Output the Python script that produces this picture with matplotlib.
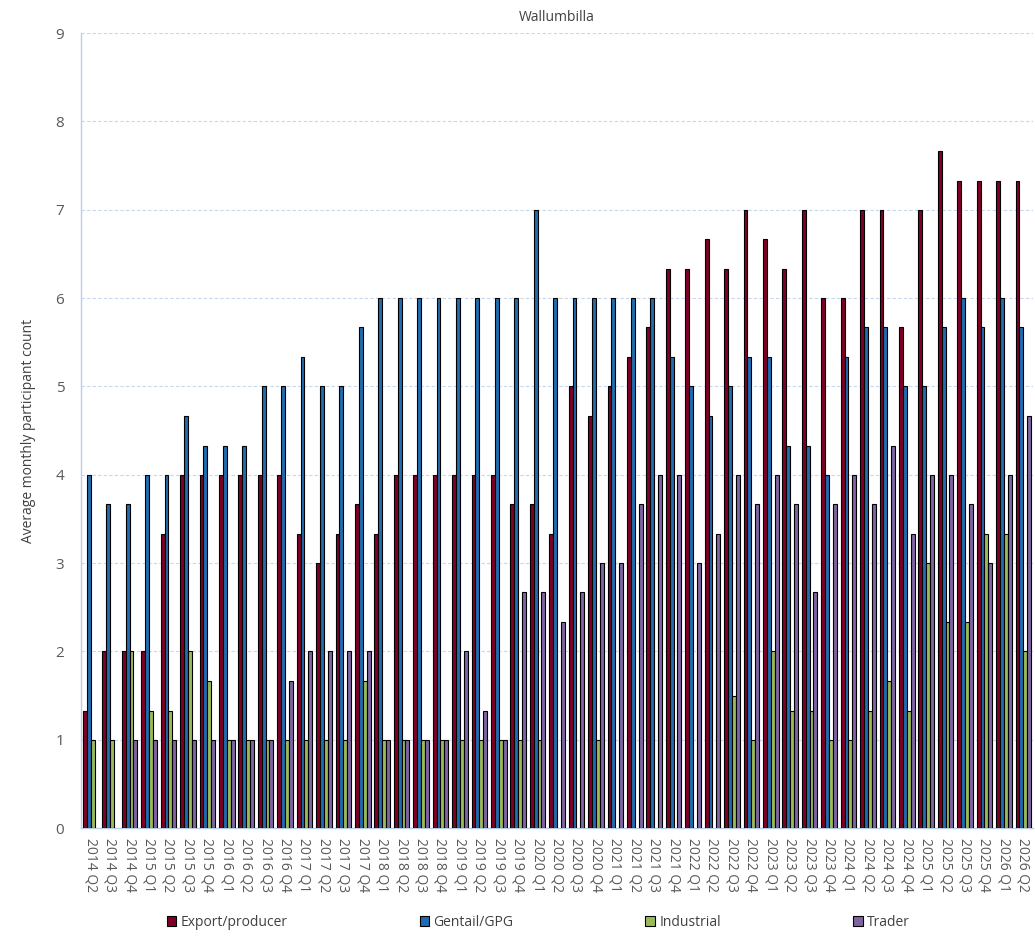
import numpy as np
import matplotlib
matplotlib.use("Agg")
from matplotlib import pyplot as plt

plt.rcParams['font.family'] = ['Open Sans', 'DejaVu Sans']

quarters = ['2014 Q2', '2014 Q3', '2014 Q4',
            '2015 Q1', '2015 Q2', '2015 Q3', '2015 Q4',
            '2016 Q1', '2016 Q2', '2016 Q3', '2016 Q4',
            '2017 Q1', '2017 Q2', '2017 Q3', '2017 Q4',
            '2018 Q1', '2018 Q2', '2018 Q3', '2018 Q4',
            '2019 Q1', '2019 Q2', '2019 Q3', '2019 Q4',
            '2020 Q1', '2020 Q2', '2020 Q3', '2020 Q4',
            '2021 Q1', '2021 Q2', '2021 Q3', '2021 Q4',
            '2022 Q1', '2022 Q2', '2022 Q3', '2022 Q4',
            '2023 Q1', '2023 Q2', '2023 Q3', '2023 Q4',
            '2024 Q1', '2024 Q2', '2024 Q3', '2024 Q4',
            '2025 Q1', '2025 Q2', '2025 Q3', '2025 Q4',
            '2026 Q1', '2026 Q2']

export_producer = [1.33, 2, 2,
                   2, 3.33, 4, 4,
                   4, 4, 4, 4,
                   3.33, 3, 3.33, 3.67,
                   3.33, 4, 4, 4,
                   4, 4, 4, 3.67,
                   3.67, 3.33, 5, 4.67,
                   5, 5.33, 5.67, 6.33,
                   6.33, 6.67, 6.33, 7,
                   6.67, 6.33, 7, 6,
                   6, 7, 7, 5.67,
                   7, 7.67, 7.33, 7.33,
                   7.33, 7.33]

gentail_gpg = [4, 3.67, 3.67,
               4, 4, 4.67, 4.33,
               4.33, 4.33, 5, 5,
               5.33, 5, 5, 5.67,
               6, 6, 6, 6,
               6, 6, 6, 6,
               7, 6, 6, 6,
               6, 6, 6, 5.33,
               5, 4.67, 5, 5.33,
               5.33, 4.33, 4.33, 4,
               5.33, 5.67, 5.67, 5,
               5, 5.67, 6, 5.67,
               6, 5.67]

industrial = [1, 1, 2,
              1.33, 1.33, 2, 1.67,
              1, 1, 1, 1,
              1, 1, 1, 1.67,
              1, 1, 1, 1,
              1, 1, 1, 1,
              1, 0, 0, 1,
              0, 0, 0, 0,
              0, 0, 1.5, 1,
              2, 1.33, 1.33, 1,
              1, 1.33, 1.67, 1.33,
              3, 2.33, 2.33, 3.33,
              3.33, 2]

trader = [0, 0, 1,
          1, 1, 1, 1,
          1, 1, 1, 1.67,
          2, 2, 2, 2,
          1, 1, 1, 1,
          2, 1.33, 1, 2.67,
          2.67, 2.33, 2.67, 3,
          3, 3.67, 4, 4,
          3, 3.33, 4, 3.67,
          4, 3.67, 2.67, 3.67,
          4, 3.67, 4.33, 3.33,
          4, 4, 3.67, 3,
          4, 4.67]

series = [('Export/producer', export_producer, '#7f0027'),
          ('Gentail/GPG', gentail_gpg, '#1f6cb0'),
          ('Industrial', industrial, '#9bbb59'),
          ('Trader', trader, '#8064a2')]

text_col = '#595959'
grid_col = '#c6d7ee'

fig = plt.figure(figsize=(10.35, 9.4), dpi=100)
ax = fig.add_axes([0.0783, 0.1191, 0.9198, 0.8457])

x = np.arange(len(quarters))
w = 0.2
for i, (name, vals, col) in enumerate(series):
    # skip zero values so empty bars are not drawn as a black line
    v = np.array(vals, dtype=float)
    ax.bar(x + (i - 1.5) * w, np.where(v > 0, v, np.nan), w, color=col,
           edgecolor='black', linewidth=0.8, label=name, zorder=3)

ax.set_xlim(-0.5, len(quarters) - 0.5)
ax.set_ylim(0, 9)
ax.set_yticks(range(10))
ax.set_xticks(x)
ax.set_xticklabels(quarters, rotation=-90, fontsize=10, color=text_col)
ax.tick_params(axis='y', labelsize=11, colors=text_col, length=0, pad=12)
ax.tick_params(axis='x', length=0, pad=7)
ax.yaxis.grid(True, color=grid_col, linestyle=(0, (3, 2)), linewidth=0.8, zorder=0)
ax.set_axisbelow(True)

for s in ['top', 'right']:
    ax.spines[s].set_visible(False)
for s in ['left', 'bottom']:
    ax.spines[s].set_color('#b8cfea')
    ax.spines[s].set_linewidth(1.0)

ax.set_ylabel('Average monthly participant count', fontsize=10, color='#404040', labelpad=14)
ax.set_title('Wallumbilla', fontsize=10, color='#404040', pad=9)

leg = fig.legend(loc='center', bbox_to_anchor=(0.52, 1 - 922 / 940), ncol=4,
                 frameon=False, fontsize=10, handlelength=0.7, handleheight=0.7,
                 handletextpad=0.3, columnspacing=9.5, labelcolor='#404040')

fig.savefig('out.png', dpi=100)
